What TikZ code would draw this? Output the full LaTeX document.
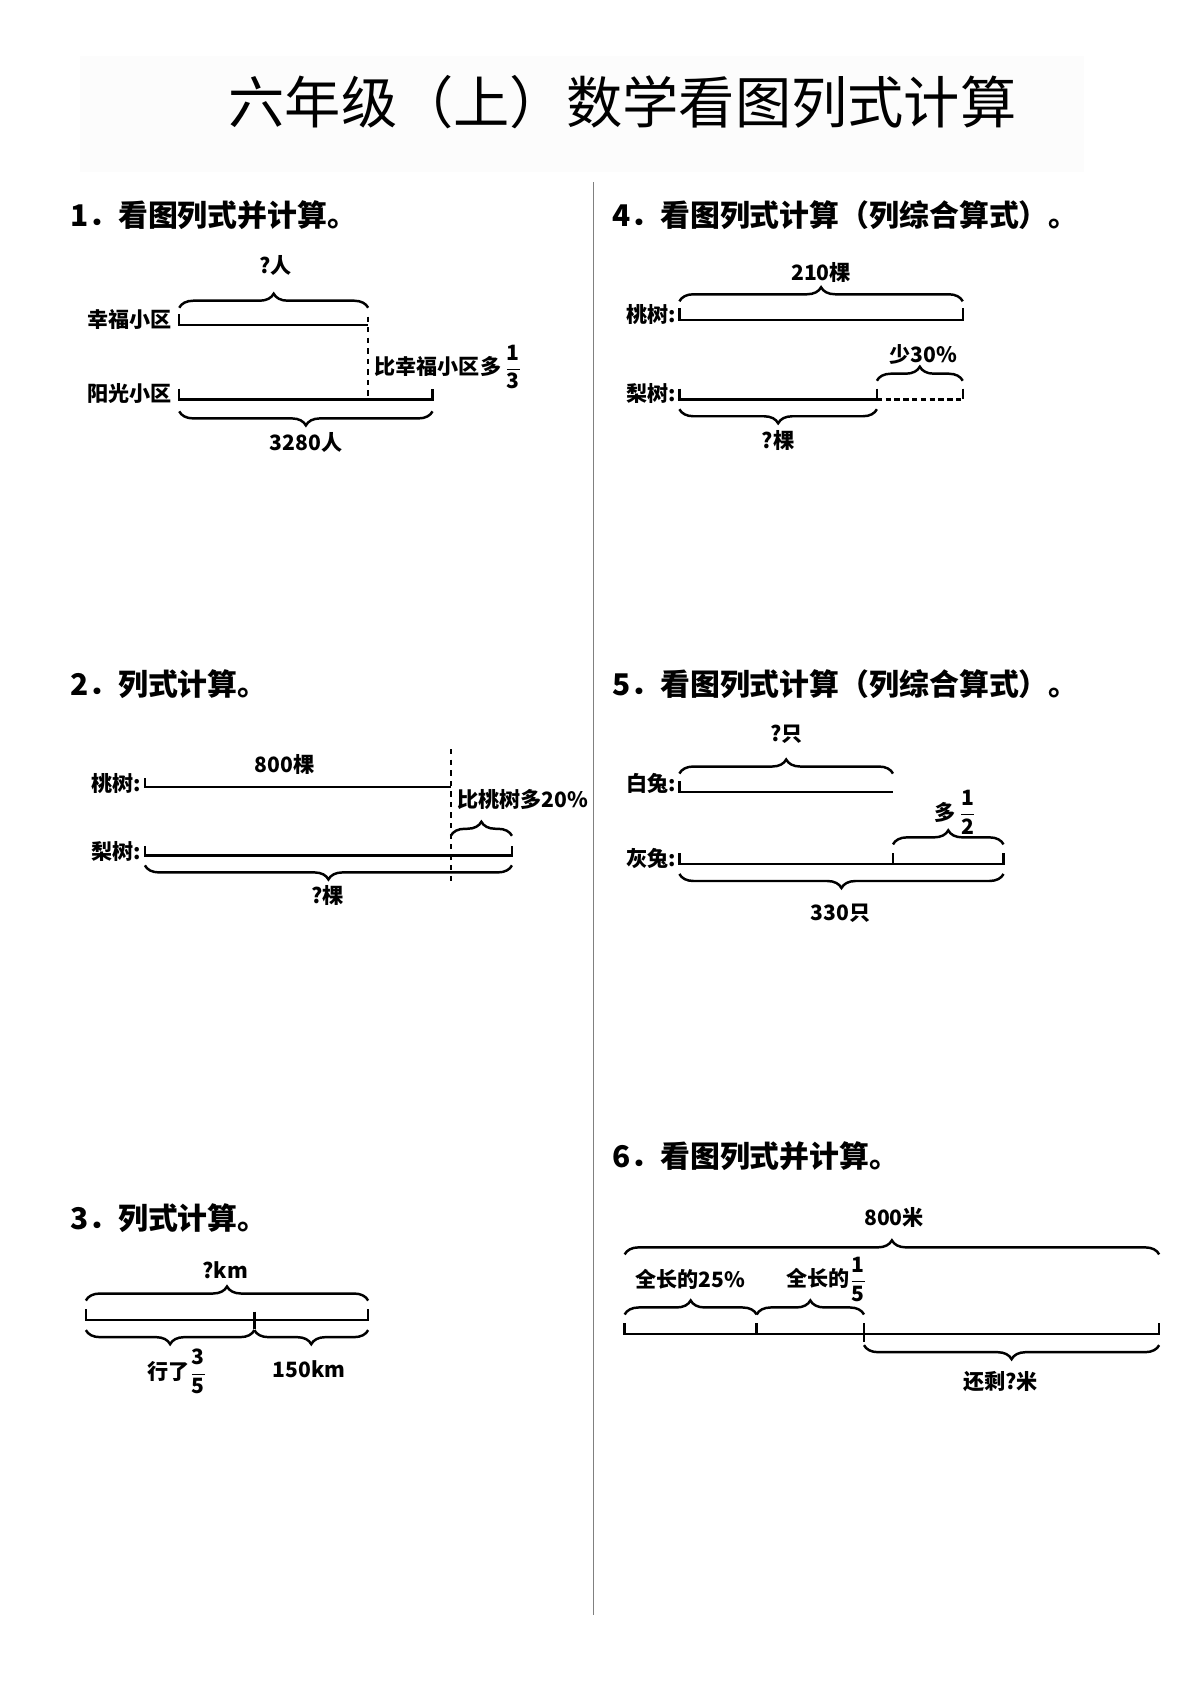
\documentclass[tikz,border=0pt]{standalone}
\usepackage{fontspec}
\usepackage{amsmath}
\setmainfont{Noto Sans CJK SC}
\usetikzlibrary{decorations.pathreplacing}
\newcommand{\fr}[2]{\ensuremath{\dfrac{\textbf{#1}}{\textbf{#2}}}}
\begin{document}
\begin{tikzpicture}[x=0.02146cm,y=-0.02146cm,
 bar/.style={line width=1.4pt},
 tk/.style={line width=1.4pt},
 br/.style={decorate,decoration={brace,amplitude=8pt,raise=2pt},line width=1.4pt},
 head/.style={anchor=west,font=\fontsize{17}{17}\selectfont\bfseries,inner sep=0},
 lab/.style={font=\fontsize{12}{12}\selectfont\bfseries,inner sep=1pt},
 title/.style={font=\fontsize{32}{32}\selectfont}]
\useasboundingbox (0,0) rectangle (1110,1569);
\fill[gray!2] (75,52) rectangle (1010,160);
\node[title] (T) at (580,95) {六年级（上）数学看图列式计算};
\draw[line width=0.8pt,gray] (553,170) coordinate (d1) -- (553,1505) coordinate (d2);
% ---- 1
\node[head] (h1) at (65,200) {1．看图列式并计算。};
\node[lab,anchor=east] (l1a) at (162,298) {幸福小区};
\node[lab,anchor=east] (l1b) at (162,367) {阳光小区};
\coordinate (a1) at (167,303); \coordinate (b1) at (343,303);
\coordinate (c1) at (167,372); \coordinate (e1) at (343,372); \coordinate (f1) at (403,372);
\draw[bar] (167,293)--(a1)--(b1);
\draw[bar] (167,362)--(c1)--(f1)--(403,362);
\draw[line width=1pt,dashed] (343,295)--(e1);
\draw[br] (167,290)--(343,290);
\node[lab] (q1) at (257,247) {?人};
\draw[br] (403,380)--(167,380);
\node[lab] (n1) at (285,412) {3280人};
\node[lab,anchor=west] (m1) at (347,342) {比幸福小区多\,\fr{1}{3}};
% ---- 4
\node[head] (h4) at (570,200) {4．看图列式计算（列综合算式）。};
\node[lab,anchor=east] (l4a) at (632,293) {桃树:};
\node[lab,anchor=east] (l4b) at (632,367) {梨树:};
\draw[bar] (633,287)--(633,298)--(897,298)--(897,287);
\draw[br] (633,284)--(897,284);
\node[lab] (n4) at (765,254) {210棵};
\draw[bar] (633,362)--(633,372)--(817,372);
\draw[tk] (817,362)--(817,372);
\draw[line width=1.4pt,dash pattern=on 3pt off 2pt] (817,372)--(897,372);
\draw[tk] (897,362)--(897,372);
\draw[br] (817,358)--(897,358);
\node[lab] (s4) at (860,330) {少30\%};
\draw[br] (817,378)--(633,378);
\node[lab] (q4) at (725,410) {?棵};
% ---- 2
\node[head] (h2) at (65,637) {2．列式计算。};
\node[lab,anchor=east] (l2a) at (133,730) {桃树:};
\node[lab,anchor=east] (l2b) at (133,793) {梨树:};
\draw[bar] (135,725)--(135,733)--(420,733);
\node[lab] (n2) at (265,712) {800棵};
\draw[line width=1pt,dashed] (420,698)--(420,822);
\node[lab] (m2) at (487,745) {比桃树多20\%};
\draw[bar] (135,788)--(135,797)--(477,797)--(477,788);
\draw[br] (420,782)--(477,782);
\draw[br] (477,803)--(135,803);
\node[lab] (q2) at (305,834) {?棵};
% ---- 5
\node[head] (h5) at (570,637) {5．看图列式计算（列综合算式）。};
\node[lab,anchor=east] (l5a) at (632,730) {白兔:};
\node[lab,anchor=east] (l5b) at (632,800) {灰兔:};
\draw[bar] (633,728)--(633,738)--(832,738);
\draw[br] (633,724)--(832,724);
\node[lab] (q5) at (733,684) {?只};
\draw[bar] (633,795)--(633,805)--(935,805)--(935,795);
\draw[tk] (832,795)--(832,805);
\draw[br] (832,790)--(935,790);
\node[lab] (m5) at (890,757) {多\,\fr{1}{2}};
\draw[br] (935,811)--(633,811);
\node[lab] (n5) at (783,851) {330只};
% ---- 3
\node[head] (h3) at (65,1135) {3．列式计算。};
\draw[bar] (80,1220)--(80,1230)--(343,1230)--(343,1220);
\draw[tk] (237,1222)--(237,1238);
\draw[br] (80,1215)--(343,1215);
\node[lab] (q3) at (210,1183) {?km};
\draw[br] (237,1236)--(80,1236);
\draw[br] (343,1236)--(237,1236);
\node[lab] (g3) at (165,1278) {行了\fr{3}{5}};
\node[lab] (k3) at (288,1276) {150km};
% ---- 6
\node[head] (h6) at (570,1077) {6．看图列式并计算。};
\draw[br] (582,1172)--(1080,1172);
\node[lab] (n6) at (833,1134) {800米};
\draw[bar] (582,1233)--(582,1243)--(1080,1243)--(1080,1233);
\draw[tk] (705,1233)--(705,1243);
\draw[tk] (805,1233)--(805,1250);
\draw[br] (582,1228)--(705,1228);
\draw[br] (705,1228)--(805,1228);
\node[lab] (p6) at (643,1192) {全长的25\%};
\node[lab] (r6) at (770,1192) {全长的\fr{1}{5}};
\draw[br] (1080,1250)--(805,1250);
\node[lab] (q6) at (932,1287) {还剩?米};
\end{tikzpicture}
\end{document}
